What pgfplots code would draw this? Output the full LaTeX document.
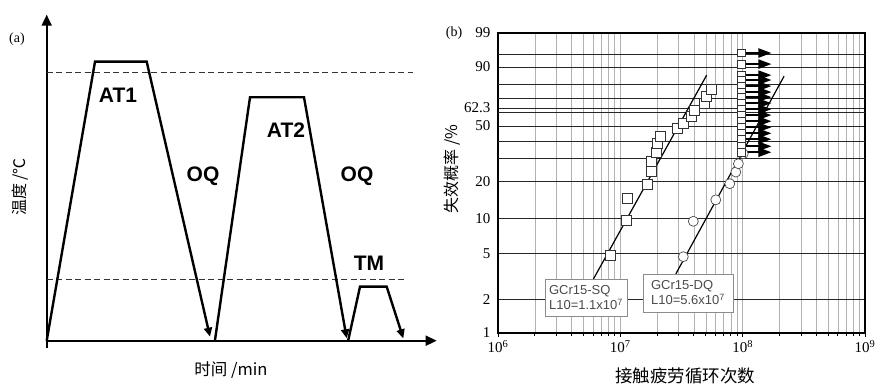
\documentclass[border=0pt]{standalone}
\usepackage{pgfplots}
\pgfplotsset{compat=1.18}
\usetikzlibrary{arrows.meta}
\usepackage{fontspec}
\setmainfont{Liberation Serif}
\newfontfamily\cjk{Noto Sans CJK SC}
\newfontfamily\arial{Liberation Sans}
\begin{document}
\begin{tikzpicture}[x=1pt,y=1pt]
\useasboundingbox (0,0) rectangle (876,385);
% ---------------- panel (a) ----------------
\begin{axis}[
  at={(46.7pt,44.3pt)}, anchor=south west,
  width=390pt, height=326pt, scale only axis,
  xmin=0, xmax=390, ymin=0, ymax=326,
  axis lines=left,
  x axis line style={line width=1.8pt, -{Triangle[length=11pt,width=10pt]}},
  y axis line style={line width=1.8pt, -{Triangle[length=11pt,width=10pt]}, shorten <=-7pt},
  xtick=\empty, ytick=\empty,
  clip=false,
]
\addplot[dash pattern=on 6pt off 3.5pt, line width=1.1pt, black!80] coordinates {(0,268) (366,268)};
\addplot[dash pattern=on 6pt off 3.5pt, line width=1.1pt, black!80] coordinates {(0,61.4) (361,61.4)};
\addplot[line width=2.4pt, -{Triangle[length=9pt,width=8pt]}] coordinates {(0,0) (48.3,279) (100,279) (163.3,4)};
\addplot[line width=2.4pt, -{Triangle[length=9pt,width=8pt]}] coordinates {(168.3,0.7) (203.3,243.4) (257.3,243.4) (300,2.4)};
\addplot[line width=2.4pt, -{Triangle[length=9pt,width=8pt]}] coordinates {(301.6,0.7) (313.3,54) (340,54) (356.6,2.4)};
\end{axis}
\begin{scope}[every node/.style={font=\arial\bfseries\fontsize{21}{21}\selectfont}]
\node at (118,290) {AT1};
\node at (286,255) {AT2};
\node at (203,209) {OQ};
\node at (357,209) {OQ};
\node at (369,122) {TM};
\end{scope}
\node[font=\fontsize{14}{14}\selectfont] at (17,346) {(a)};
\node[font=\cjk\fontsize{16}{16}\selectfont, rotate=90] at (20,198) {温度 /℃};
\node[font=\cjk\fontsize{16.5}{16.5}\selectfont, anchor=base] at (231,9) {时间 /min};
% ---------------- panel (b) ----------------
\begin{axis}[
  at={(498pt,52pt)}, anchor=south west,
  width=367pt, height=300pt, scale only axis,
  xmode=log, xmin=1e6, xmax=1e9,
  ymin=1, ymax=99,
  y coord trafo/.code={\pgfmathparse{ln(-ln(1-#1/100))}},
  y coord inv trafo/.code={\pgfmathparse{100*(1-exp(-exp(#1)))}},
  enlargelimits=false,
  xtick={1e6,1e7,1e8,1e9},
  xticklabels={10\textsuperscript{6},10\textsuperscript{7},10\textsuperscript{8},10\textsuperscript{9}},
  xtick pos=bottom, tick align=outside,
  major tick length=4pt, minor tick length=3pt,
  x tick style={black, line width=1pt},
  xmajorgrids, xminorgrids,
  major x grid style={black!30, line width=0.6pt},
  minor x grid style={black!30, line width=0.6pt},
  ytick={1,2,5,10,20,50,63.2,90,99},
  yticklabels={1,2,5,10,20,50,62.3,90,99},
  ytick style={draw=none},
  ymajorgrids,
  major y grid style={black!85, line width=0.9pt},
  extra y ticks={30,40,60,70,80,95},
  extra y tick labels={},
  extra y tick style={grid=major, tick style={draw=none}},
  axis line style={line width=1.4pt},
  ticklabel style={font=\fontsize{15}{15}\selectfont},
  clip=false,
]
% GCr15-SQ
\addplot[only marks, mark=square*, mark size=5pt, mark options={fill=white, line width=0.7pt, draw=black!80}] coordinates {
(8.24e6,4.84) (1.127e7,9.6) (1.15e7,14.6) (1.675e7,19.0) (1.806e7,24.2) (1.806e7,28.7)
(1.984e7,33.5) (2.007e7,38.4) (2.11e7,43.0) (2.92e7,48.2) (3.27e7,52.2) (3.83e7,57.1)
(4.03e7,61.6) (4.83e7,66.6) (5.08e7,71.5) (5.52e7,76.8)};
% GCr15-DQ
\addplot[only marks, mark=*, mark size=5pt, mark options={fill=white, line width=0.7pt, draw=black!70}] coordinates {
(3.27e7,4.74) (3.95e7,9.5) (6.03e7,14.3) (7.84e7,19.3) (8.79e7,23.8) (9.22e7,27.5) (1.01e8,32.6)};
% run-outs at 1e8
\addplot[only marks, mark=square*, mark size=3.8pt, mark options={fill=white, line width=0.7pt, draw=black!80}] coordinates {
(9.8e7,95.3) (9.8e7,91.3) (9.8e7,85.8) (9.8e7,82.9) (9.8e7,79.0) (9.8e7,74.9) (9.8e7,71.3) (9.8e7,66.8)
(9.8e7,62.3) (9.8e7,57.9) (9.8e7,53.4) (9.8e7,49.1) (9.8e7,45.0) (9.8e7,41.1) (9.8e7,36.8) (9.8e7,33.4)};
\pgfplotsinvokeforeach{95.3,91.3,85.8,82.9,79.0,74.9,71.3,66.8,62.3,57.9,53.4,49.1,45.0,41.1,36.8,33.4}{
  \addplot[line width=2pt, -{Triangle[length=13pt,width=9pt]}] coordinates {(1.04e8,#1) (1.72e8,#1)};
}
% fitted lines
\addplot[line width=1.2pt] coordinates {(6.03e6,3.04) (5.08e7,85.8)};
\addplot[line width=1.2pt] coordinates {(2.84e7,3.36) (2.18e8,85.2)};
\end{axis}
\node[draw=black!45, fill=white, line width=0.8pt, align=left, minimum width=82pt, minimum height=37pt, inner sep=3pt,
  font=\arial\fontsize{13}{15}\selectfont, text=black!70] at (586,87.5) {GCr15-SQ\\L10=1.1x10\textsuperscript{7}};
\node[draw=black!45, fill=white, line width=0.8pt, align=left, minimum width=90pt, minimum height=38pt, inner sep=3pt,
  font=\arial\fontsize{13}{15}\selectfont, text=black!70] at (688,92) {GCr15-DQ\\L10=5.6x10\textsuperscript{7}};
\node[font=\fontsize{14}{14}\selectfont] at (454,352) {(b)};
\node[font=\cjk\fontsize{16}{16}\selectfont, rotate=90] at (452,216) {失效概率 /\%};
\node[font=\cjk\fontsize{17.5}{17.5}\selectfont, anchor=base] at (685,2) {接触疲劳循环次数};
\end{tikzpicture}
\end{document}
